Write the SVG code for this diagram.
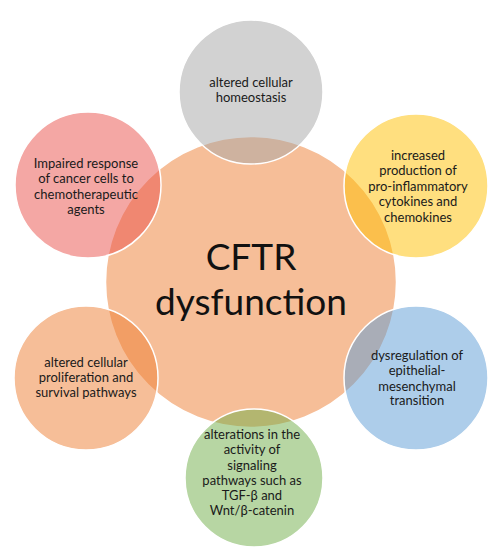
<svg xmlns="http://www.w3.org/2000/svg" width="496" height="550" viewBox="0 0 496 550">
<style>
.c{stroke:#fff;stroke-width:1.5;fill-opacity:0.5}
.t{font-family:Lato,"Liberation Sans",sans-serif;font-size:13px;fill:#1a1a1a;text-anchor:middle}
.big{font-family:Lato,"Liberation Sans",sans-serif;font-size:37px;fill:#111;text-anchor:middle}
</style>
<rect width="496" height="550" fill="#fff"/>
<g id="center"><circle class="c" cx="251" cy="282" r="145.5" fill="#ed7d31"/>
<text class="big" x="251" y="270">CFTR</text><text class="big" x="251" y="315">dysfunction</text></g>
<g id="n-homeostasis"><circle class="c" cx="251" cy="92" r="72" fill="#a5a5a5"/>
<text class="t" x="251" y="87">altered cellular</text><text class="t" x="251" y="102">homeostasis</text></g>
<g id="n-cytokines"><circle class="c" cx="416" cy="186" r="72" fill="#ffc000"/>
<text class="t" x="418" y="159.5">increased</text><text class="t" x="418" y="175">production of</text><text class="t" x="418" y="190.5">pro-inflammatory</text><text class="t" x="418" y="206">cytokines and</text><text class="t" x="418" y="221.5">chemokines</text></g>
<g id="n-emt"><circle class="c" cx="416" cy="378" r="72" fill="#5b9bd5"/>
<text class="t" x="417" y="359.5">dysregulation of</text><text class="t" x="417" y="375">epithelial-</text><text class="t" x="417" y="390.5">mesenchymal</text><text class="t" x="417" y="405">transition</text></g>
<g id="n-signaling"><circle class="c" cx="254" cy="478" r="69" fill="#70ad47"/>
<text class="t" x="252" y="439">alterations in the</text><text class="t" x="252" y="454">activity of</text><text class="t" x="252" y="469.5">signaling</text><text class="t" x="252" y="484.5">pathways such as</text><text class="t" x="252" y="499.5">TGF-β and</text><text class="t" x="252" y="514.5">Wnt/β-catenin</text></g>
<g id="n-proliferation"><circle class="c" cx="86" cy="378" r="72" fill="#ed7d31"/>
<text class="t" x="86" y="366.5">altered cellular</text><text class="t" x="86" y="382">proliferation and</text><text class="t" x="86" y="397">survival pathways</text></g>
<g id="n-chemo"><circle class="c" cx="88" cy="185" r="73" fill="#e94f4a"/>
<text class="t" x="86" y="167.5">Impaired response</text><text class="t" x="86" y="183">of cancer cells to</text><text class="t" x="86" y="198.5">chemotherapeutic</text><text class="t" x="86" y="213.5">agents</text></g>
<g id="connectors"/>
</svg>
